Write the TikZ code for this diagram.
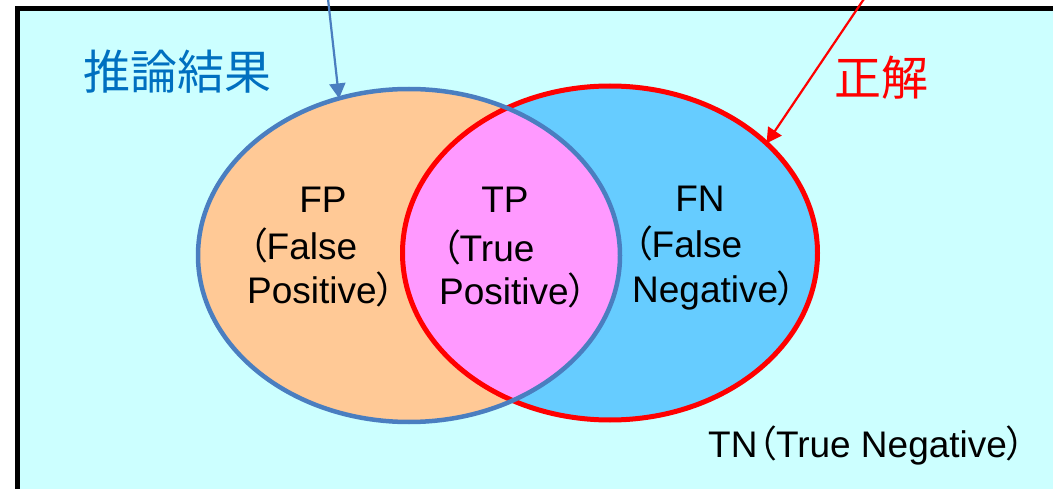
\documentclass[tikz,border=0pt]{standalone}
\usepackage{fontspec}
\setmainfont{Liberation Sans}
\newfontfamily\cjk{Noto Sans CJK JP}
\newfontfamily\cjkp[RawFeature=+palt]{Noto Sans CJK JP}
\usetikzlibrary{shapes.geometric,arrows.meta}
\definecolor{bgcyan}{HTML}{CCFFFF}
\definecolor{peach}{HTML}{FFC996}
\definecolor{skyb}{HTML}{66CCFF}
\definecolor{pinkc}{HTML}{FF99FF}
\definecolor{rimblue}{HTML}{4A7EC0}
\definecolor{rimred}{HTML}{FF0000}
\definecolor{jblue}{HTML}{0070C0}
\newcommand\lpar{{\cjkp （}}
\newcommand\rpar{{\cjkp ）}}
\begin{document}
\begin{tikzpicture}[x=1pt,y=-1pt,
  lbl/.style={inner sep=0pt, font=\fontsize{37}{44}\selectfont},
  tnlbl/.style={inner sep=0pt, font=\fontsize{37}{44}\selectfont},
  jlbl/.style={inner sep=0pt, font=\cjk\fontsize{47}{50}\selectfont},
  setrim/.style={ellipse, inner sep=0pt, outer sep=0pt},
  pointer/.style={line width=2.2pt, -{Triangle[length=15pt,width=16pt]}}]
\useasboundingbox (0,0) rectangle (1053,489);
\clip (0,0) rectangle (1053,489);
% frame and background
\draw[line width=5pt, fill=bgcyan] (17.5,8.5) rectangle (1070,500);
% set fills
\fill[peach] (409,255.5) ellipse [x radius=211pt, y radius=166.5pt];
\fill[skyb] (610,253) ellipse [x radius=207.5pt, y radius=167pt];
\begin{scope}
  \clip (409,255.5) ellipse [x radius=211pt, y radius=166.5pt];
  \fill[pinkc] (610,253) ellipse [x radius=207.5pt, y radius=167pt];
\end{scope}
% set outlines
\node[setrim, draw=rimred, line width=5pt, minimum width=415pt, minimum height=334pt] (truth) at (610,253) {};
\node[setrim, draw=rimblue, line width=4.5pt, minimum width=422pt, minimum height=333pt] (pred) at (409,255.5) {};
% labels
\node[jlbl, text=jblue] (predlbl) at (177,72) {推論結果};
\node[jlbl, text=rimred] (truthlbl) at (881,78) {正解};
\coordinate (ps) at (327,-10);
\coordinate (ts) at (870,-10);
\draw[pointer, rimblue] (ps) -- (pred.114.75);
\draw[pointer, rimred] (ts) -- (truth.35);
% region texts
\node[lbl, anchor=base] (fp) at (323,213) {FP};
\node[lbl, anchor=base west] (fp2) at (248,260) {\lpar False};
\node[lbl, anchor=base west] (fp3) at (247,304) {Positive\rpar};
\node[lbl, anchor=base] (tp) at (505,213) {TP};
\node[lbl, anchor=base west] (tp2) at (441,262) {\lpar True};
\node[lbl, anchor=base west] (tp3) at (439,305) {Positive\rpar};
\node[lbl, anchor=base] (fn) at (700,212) {FN};
\node[lbl, anchor=base west] (fn2) at (633,258) {\lpar False};
\node[lbl, anchor=base west] (fn3) at (632,303) {Negative\rpar};
\node[tnlbl, anchor=base west] (tn) at (708,457) {TN\lpar True Negative\rpar};
\end{tikzpicture}
\end{document}
